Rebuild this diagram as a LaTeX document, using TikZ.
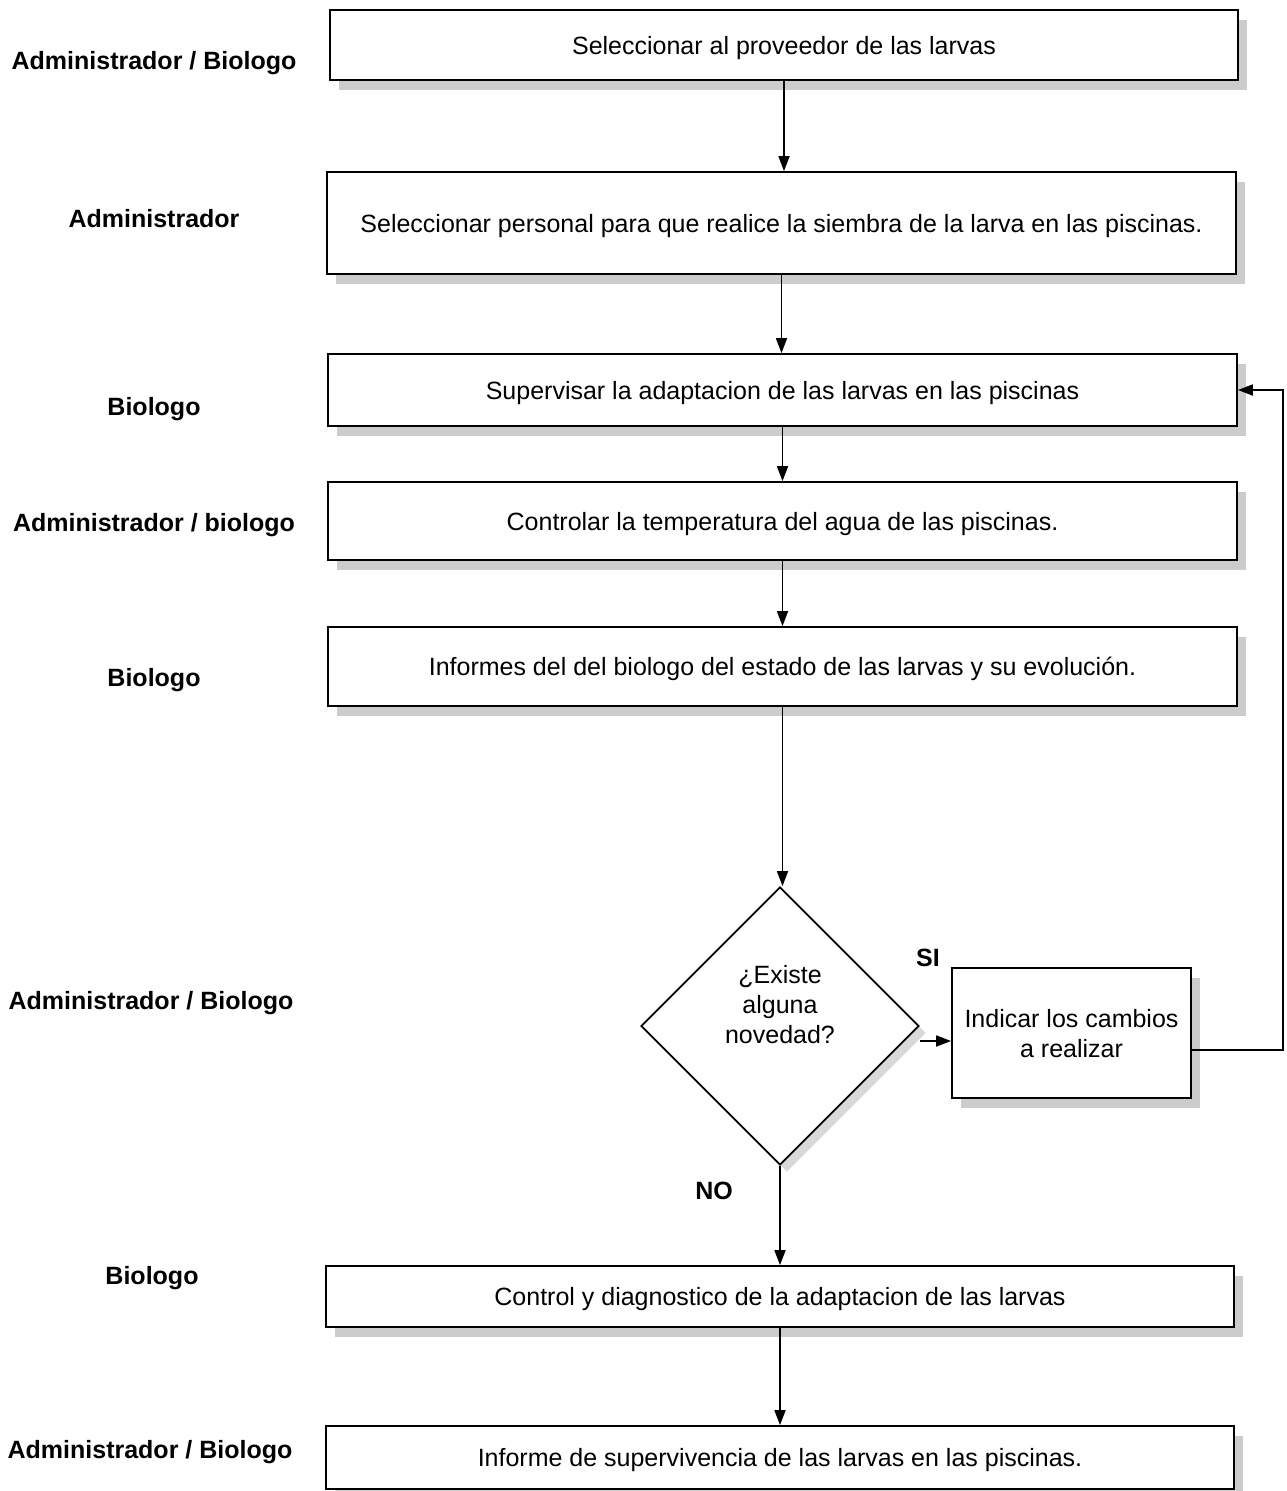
\documentclass[tikz,border=0pt]{standalone}
\usepackage{fontspec}
\setmainfont{Liberation Sans}
\usetikzlibrary{shapes.geometric,arrows.meta,shadows}
\begin{document}
\begin{tikzpicture}[x=1pt,y=-1pt,
  every node/.style={font=\fontsize{25}{30}\selectfont},
  stepbox/.style={draw, line width=1.8pt, fill=white, inner sep=0pt, align=center, text depth=0pt,
    drop shadow={shadow xshift=9pt, shadow yshift=-10pt, fill=black!20, opacity=1}},
  decision/.style={diamond, draw, line width=1.8pt, fill=white, inner sep=0pt,
    minimum width=278pt, minimum height=278pt,
    drop shadow={shadow xshift=7pt, shadow yshift=-7pt, fill=black!15, opacity=1}},
  role/.style={font=\fontsize{25}{30}\selectfont\bfseries},
  flow/.style={line width=1.8pt, -{Triangle[length=15pt,width=11pt]}}]
\useasboundingbox (0,0) rectangle (1286,1491);

% roles
\node[role] (r1) at (154,63) {Administrador / Biologo};
\node[role] (r2) at (154,219) {Administrador};
\node[role] (r3) at (154,409) {Biologo};
\node[role] (r4) at (154,525) {Administrador / biologo};
\node[role] (r5) at (154,680) {Biologo};
\node[role] (r6) at (151,1003) {Administrador / Biologo};
\node[role] (r7) at (152,1278) {Biologo};
\node[role] (r8) at (150,1452) {Administrador / Biologo};

% process steps
\node[stepbox, minimum width=908pt, minimum height=70pt] (b1) at (784,45) {Seleccionar al proveedor de las larvas};
\node[stepbox, minimum width=909pt, minimum height=102pt] (b2) at (781.5,223) {Seleccionar personal para que realice la siembra de la larva en las piscinas.};
\node[stepbox, minimum width=909pt, minimum height=72pt] (b3) at (782.5,390) {Supervisar la adaptacion de las larvas en las piscinas};
\node[stepbox, minimum width=909pt, minimum height=78pt] (b4) at (782.5,521) {Controlar la temperatura del agua de las piscinas.};
\node[stepbox, minimum width=909pt, minimum height=79pt] (b5) at (782.5,666.5) {Informes del del biologo del estado de las larvas y su evolución.};
\node[decision] (d) at (780,1026) {};
\node[align=center] (dq) at (780,1005) {¿Existe\\alguna\\novedad?};
\node[stepbox, minimum width=239pt, minimum height=130pt] (b6) at (1071.5,1033) {Indicar los cambios\\a realizar};
\node[stepbox, minimum width=908pt, minimum height=61pt] (b7) at (780,1296.5) {Control y diagnostico de la adaptacion de las larvas};
\node[stepbox, minimum width=908pt, minimum height=63pt] (b8) at (780,1457.5) {Informe de supervivencia de las larvas en las piscinas.};

% branch labels
\node[role] (si) at (928,958) {SI};
\node[role] (no) at (714,1191) {NO};

% connectors
\draw[flow] (b1.south) -- (b1.south |- b2.north);
\draw[flow] (b2.south) -- (b2.south |- b3.north);
\draw[flow] (b3.south) -- (b3.south |- b4.north);
\draw[flow] (b4.south) -- (b4.south |- b5.north);
\draw[flow] (b5.south) -- (b5.south |- d.north);
\draw[flow] (d.south) -- (d.south |- b7.north);
\draw[flow] (b7.south) -- (b7.south |- b8.north);
\coordinate (yes) at (920,1041);
\draw[flow] (yes) -- (yes -| b6.west);
\coordinate (back) at (1283,1050);
\draw[flow] (b6.east |- back) -- (back) |- (b3.east);
\end{tikzpicture}
\end{document}
